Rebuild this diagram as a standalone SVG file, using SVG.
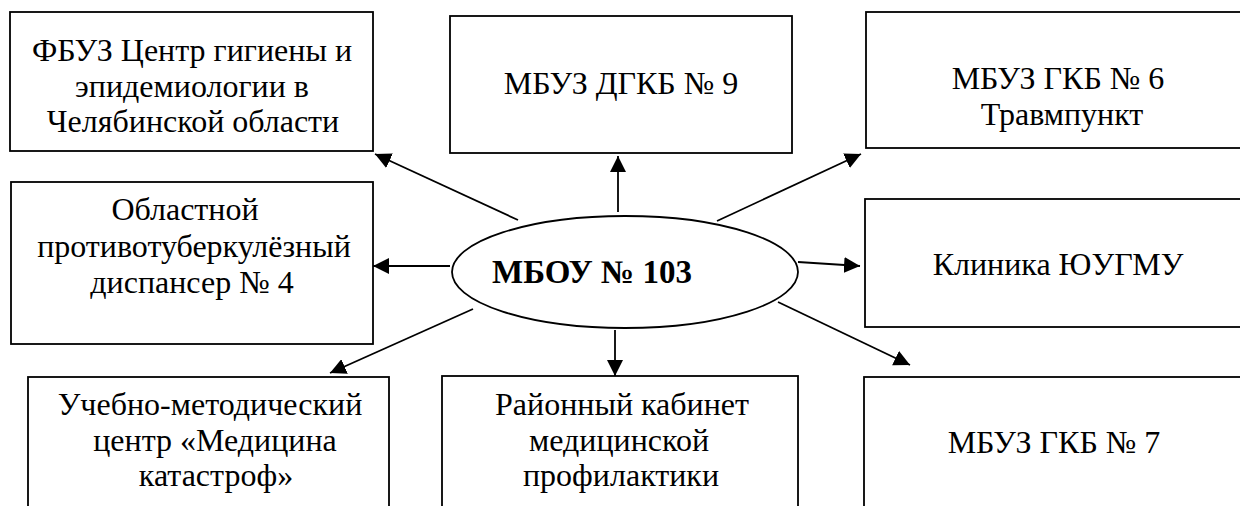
<svg xmlns="http://www.w3.org/2000/svg" width="1240" height="506" viewBox="0 0 1240 506">
<defs>
<style>
.box{fill:#fff;stroke:#000;stroke-width:1.8}
text{font-family:'Liberation Serif','Times New Roman',serif;font-size:32px;fill:#000;text-anchor:middle}
.b{font-weight:bold;font-size:33px}
.c{stroke:#000;stroke-width:1.8;fill:none;marker-end:url(#ah)}
</style>
<marker id="ah" markerUnits="userSpaceOnUse" markerWidth="18" markerHeight="16" refX="16" refY="8" orient="auto">
<path d="M0,0 L16,8 L0,16 Z" fill="#000"/>
</marker>
</defs>
<rect width="1240" height="506" fill="#fff"/>
<g id="n-fbuz">
<rect class="box" x="10" y="12" width="363" height="139"/>
<text x="192" y="61">ФБУЗ Центр гигиены и</text>
<text x="192" y="97">эпидемиологии в</text>
<text x="193" y="132">Челябинской области</text>
</g>
<g id="n-dgkb9">
<rect class="box" x="450" y="16" width="342" height="137"/>
<text x="621" y="94">МБУЗ ДГКБ № 9</text>
</g>
<g id="n-gkb6">
<rect class="box" x="866" y="12" width="390" height="136"/>
<text x="1058" y="89">МБУЗ ГКБ № 6</text>
<text x="1062" y="125">Травмпункт</text>
</g>
<g id="n-tub">
<rect class="box" x="11" y="182" width="362" height="162"/>
<text x="185" y="220">Областной</text>
<text x="194" y="257">противотуберкулёзный</text>
<text x="192" y="293">диспансер № 4</text>
</g>
<g id="n-center">
<ellipse cx="625" cy="272" rx="173" ry="56" fill="#fff" stroke="#000" stroke-width="1.8"/>
<text class="b" x="592" y="283">МБОУ № 103</text>
</g>
<g id="n-clinic">
<rect class="box" x="865" y="199" width="390" height="128"/>
<text x="1058" y="275">Клиника ЮУГМУ</text>
</g>
<g id="n-umc">
<rect class="box" x="28" y="377" width="361" height="140"/>
<text x="210" y="415">Учебно-методический</text>
<text x="215" y="451">центр «Медицина</text>
<text x="216" y="486">катастроф»</text>
</g>
<g id="n-rkmp">
<rect class="box" x="442" y="376" width="356" height="140"/>
<text x="622" y="415">Районный кабинет</text>
<text x="619" y="451">медицинской</text>
<text x="621" y="486">профилактики</text>
</g>
<g id="n-gkb7">
<rect class="box" x="864" y="377" width="392" height="140"/>
<text x="1054" y="453">МБУЗ ГКБ № 7</text>
</g>
<g id="connectors">
<line class="c" x1="518" y1="220" x2="375" y2="154"/>
<line class="c" x1="618" y1="212" x2="618" y2="156"/>
<line class="c" x1="717" y1="221" x2="861" y2="154"/>
<line class="c" x1="450" y1="266" x2="373" y2="266"/>
<line class="c" x1="798" y1="262" x2="860" y2="266"/>
<line class="c" x1="473" y1="309" x2="330" y2="373"/>
<line class="c" x1="615" y1="330" x2="615" y2="376"/>
<line class="c" x1="778" y1="302" x2="910" y2="365"/>
</g>
</svg>
